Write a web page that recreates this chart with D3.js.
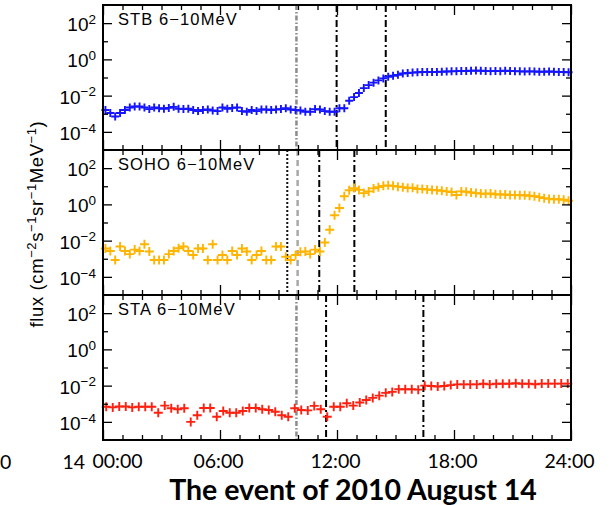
<!DOCTYPE html>
<html>
<head>
<meta charset="utf-8">
<script src="https://cdn.jsdelivr.net/npm/d3@7"></script>
<style>
  html, body { margin: 0; padding: 0; background: #fff; }
  svg { display: block; }
</style>
</head>
<body>
<svg id="chart" width="611" height="505"></svg>
<script>
// Proton flux, 6-10 MeV channel, three spacecraft (hours of the day, UT)
const stbTimes = d3.range(96).map(i => 0.125 + 0.25 * i);
const stbFlux = [
  1.6e-3, 1.1e-3, 7.1e-4, 1.1e-3, 1.6e-3, 2.2e-3, 2.5e-3, 2.5e-3, 2.2e-3, 1.8e-3,
  2.2e-3, 2.0e-3, 1.9e-3, 2.1e-3, 2.4e-3, 1.9e-3, 1.8e-3, 1.9e-3, 1.6e-3, 1.4e-3,
  1.6e-3, 1.7e-3, 1.5e-3, 1.4e-3, 2.2e-3, 1.9e-3, 2.1e-3, 2.2e-3, 1.4e-3, 1.3e-3,
  1.6e-3, 1.4e-3, 1.7e-3, 1.7e-3, 1.6e-3, 1.7e-3, 1.8e-3, 2.0e-3, 1.7e-3, 1.6e-3,
  1.5e-3, 1.3e-3, 1.3e-3, 1.8e-3, 1.7e-3, 1.4e-3, 1.3e-3, 1.3e-3, 2.0e-3, 2.0e-3,
  5.2e-3, 8.3e-3, 0.014, 0.026, 0.038, 0.052, 0.069, 0.089, 0.11, 0.126,
  0.14, 0.166, 0.178, 0.186, 0.195, 0.2, 0.2, 0.2, 0.204, 0.209,
  0.214, 0.219, 0.224, 0.229, 0.229, 0.234, 0.24, 0.234, 0.229, 0.224,
  0.229, 0.224, 0.234, 0.229, 0.224, 0.219, 0.214, 0.219, 0.214, 0.209,
  0.209, 0.214, 0.209, 0.204, 0.2, 0.195
];

const sohoTimes = d3.range(96).map(i => 0.125 + 0.25 * i);
const sohoFlux = [
  3.7e-3, 2.7e-3, 8.5e-4, 4.7e-3, 2.7e-3, 1.8e-3, 3.2e-3, 2.7e-3, 6.3e-3, 2.5e-3,
  8.5e-4, 8.5e-4, 8.5e-4, 1.8e-3, 2.7e-3, 3.8e-3, 4.7e-3, 2.7e-3, 1.6e-3, 3.7e-3,
  3.7e-3, 8.5e-4, 6.3e-3, 8.5e-4, 1.6e-3, 8.5e-4, 2.7e-3, 1.6e-3, 3.7e-3, 2.5e-3,
  8.5e-4, 1.6e-3, 2.7e-3, 8.5e-4, 8.5e-4, 4.7e-3, 4.7e-3, 1.3e-3, 8.5e-4, 1.6e-3,
  2.4e-3, 2.5e-3, 1.8e-3, 3.2e-3, 2.5e-3, 7.9e-3, 0.04, 0.25, 0.63, 2.8,
  6.0, 7.9, 6.3, 4.2, 5.2, 7.6, 8.9, 10.5, 11.2, 10.5,
  9.5, 8.9, 7.9, 8.3, 7.1, 7.1, 6.6, 6.3, 6.0, 5.6,
  5.2, 4.8, 3.3, 5.2, 5.0, 4.5, 4.2, 4.0, 3.8, 4.0,
  3.6, 3.5, 3.5, 3.3, 3.3, 3.2, 3.2, 3.0, 2.8, 2.5,
  2.2, 2.0, 1.9, 1.9, 1.8, 1.6
];

const staTimes = d3.range(72).map(i => 1 / 6 + i / 3);
const staFlux = [
  6.8e-4, 6.3e-4, 7.1e-4, 7.1e-4, 6.3e-4, 6.8e-4, 6.8e-4, 6.8e-4, 3.2e-4, 7.9e-4,
  5.6e-4, 5.0e-4, 5.6e-4, 1.0e-4, 2.3e-4, 5.8e-4, 5.8e-4, 1.9e-4, 4.0e-4, 3.2e-4,
  3.2e-4, 4.0e-4, 5.8e-4, 5.8e-4, 5.0e-4, 4.5e-4, 3.6e-4, 2.3e-4, 1.9e-4, 5.6e-4,
  4.5e-4, 4.3e-4, 7.6e-4, 5.0e-4, 1.9e-4, 6.8e-4, 6.8e-4, 1.07e-3, 7.9e-4, 1.17e-3,
  1.6e-3, 2.1e-3, 2.8e-3, 4.0e-3, 4.5e-3, 6.3e-3, 6.3e-3, 6.3e-3, 6.0e-3, 0.010,
  9.5e-3, 8.9e-3, 9.5e-3, 0.0107, 0.0117, 0.0117, 0.0117, 0.0117, 0.0126, 0.0117,
  0.0126, 0.0126, 0.0126, 0.0135, 0.0126, 0.0126, 0.012, 0.0129, 0.0129, 0.0129,
  0.0129, 0.0129
];

// Event markers (hours): onset / arrival lines drawn in each panel
const stbMarks = [
  { t: 9.92, kind: "grayDot" }, { t: 11.98, kind: "dashDot" }, { t: 14.5, kind: "dashDot" }
];
const sohoMarks = [
  { t: 9.45, kind: "dotted" }, { t: 9.98, kind: "grayDash" },
  { t: 11.09, kind: "dashDot" }, { t: 12.89, kind: "dashDot" }
];
const staMarks = [
  { t: 9.92, kind: "grayDot" }, { t: 11.44, kind: "dashDot" }, { t: 16.43, kind: "dashDot" }
];

const panelNames = ["STB 6\u221210MeV", "SOHO 6\u221210MeV", "STA 6\u221210MeV"];
const panelColors = ["#1414ff", "#ffb400", "#ff2010"];
const markerSizes = [4, 4.5, 4.5];
const yMajor = [1e-4, 1e-2, 1, 1e2];
const yMinor = [1e-3, 1e-1, 1e1];
const xMajor = [0, 6, 12, 18, 24];
const xLabels = ["00:00", "06:00", "12:00", "18:00", "24:00"];
const dayLabel = "14";
const titleText = "The event of 2010 August 14";

const svg = d3.select("#chart");
const left = 103, right = 571;
const panelTops = [5, 150, 295];
const panelH = 145;

const x = d3.scaleLinear().domain([0, 24]).range([left, right]);
const xMinor = d3.range(0, 25).filter(h => h % 6 !== 0);

const lineStyles = {
  dashDot: { stroke: "#000", width: 2, dash: "7,3,2,3" },
  dotted: { stroke: "#111", width: 2, dash: "2,2" },
  grayDash: { stroke: "#a8a8a8", width: 2.5, dash: "6,4" },
  grayDot: { stroke: "#8c8c8c", width: 2.5, dash: "5,2,1.5,2" }
};

const series = [
  { t: stbTimes, v: stbFlux, marks: stbMarks },
  { t: sohoTimes, v: sohoFlux, marks: sohoMarks },
  { t: staTimes, v: staFlux, marks: staMarks }
];

const tickFont = "'Liberation Sans', Arial, sans-serif";

series.forEach((s, p) => {
  const top = panelTops[p];
  const y = d3.scaleLog().domain([1e-5, 1e3]).range([top + panelH, top]);
  const g = svg.append("g");

  // event lines
  s.marks.forEach(m => {
    const st = lineStyles[m.kind];
    g.append("line")
      .attr("x1", x(m.t)).attr("x2", x(m.t))
      .attr("y1", top).attr("y2", top + panelH)
      .attr("stroke", st.stroke).attr("stroke-width", st.width)
      .attr("stroke-dasharray", st.dash);
  });

  // crosses
  const r = markerSizes[p];
  const pts = s.t.map((t, i) => [t, s.v[i]]);
  g.append("g").selectAll("path").data(pts).join("path")
    .attr("transform", d => `translate(${x(d[0])},${y(d[1])})`)
    .attr("d", `M${-r},0H${r}M0,${-r}V${r}`)
    .attr("stroke", panelColors[p])
    .attr("stroke-width", 1.9)
    .attr("fill", "none");

  // y axis, left with labels
  const yl = g.append("g").attr("transform", `translate(${left},0)`)
    .call(d3.axisLeft(y).tickValues(yMajor).tickSize(-9).tickPadding(7).tickFormat(() => ""));
  yl.selectAll("text").each(function(d) {
    const e = Math.round(Math.log10(d));
    const t = d3.select(this)
      .attr("font-family", tickFont).attr("font-size", 19).attr("fill", "#000")
      .attr("dy", "0.4em");
    t.append("tspan").text("10");
    t.append("tspan").attr("font-size", 13.5).attr("dy", "-0.55em")
      .text(e < 0 ? "\u2212" + (-e) : String(e));
  });
  g.append("g").attr("transform", `translate(${left},0)`)
    .call(d3.axisLeft(y).tickValues(yMinor).tickSize(-5).tickFormat(""));
  g.append("g").attr("transform", `translate(${right},0)`)
    .call(d3.axisRight(y).tickValues(yMajor).tickSize(-9).tickFormat(""));
  g.append("g").attr("transform", `translate(${right},0)`)
    .call(d3.axisRight(y).tickValues(yMinor).tickSize(-5).tickFormat(""));

  // x ticks on top and bottom edges
  g.append("g").attr("transform", `translate(0,${top})`)
    .call(d3.axisTop(x).tickValues(xMajor).tickSize(-10).tickFormat(""));
  g.append("g").attr("transform", `translate(0,${top})`)
    .call(d3.axisTop(x).tickValues(xMinor).tickSize(-5).tickFormat(""));
  g.append("g").attr("transform", `translate(0,${top + panelH})`)
    .call(d3.axisBottom(x).tickValues(xMajor).tickSize(-10).tickFormat(""));
  g.append("g").attr("transform", `translate(0,${top + panelH})`)
    .call(d3.axisBottom(x).tickValues(xMinor).tickSize(-5).tickFormat(""));

  g.selectAll(".domain").remove();
  g.selectAll(".tick line").attr("stroke", "#000").attr("stroke-width", 1.3);

  // frame
  g.append("rect").attr("x", left).attr("y", top).attr("width", right - left).attr("height", panelH)
    .attr("fill", "none").attr("stroke", "#000").attr("stroke-width", 2);

  // panel name
  g.append("text").attr("x", left + 15).attr("y", top + 19.5)
    .attr("font-family", tickFont).attr("font-size", 16.5).attr("letter-spacing", 1.1)
    .text(panelNames[p]);
});

// y axis title
const yt = svg.append("text")
  .attr("transform", "translate(43,224) rotate(-90)")
  .attr("text-anchor", "middle")
  .attr("font-family", tickFont).attr("font-size", 18.5).attr("letter-spacing", 0.6);
yt.append("tspan").text("flux (cm");
[["\u22122", "s"], ["\u22121", "sr"], ["\u22121", "MeV"], ["\u22121", ")"]].forEach(([sup, after]) => {
  yt.append("tspan").attr("font-size", 13).attr("dy", -7).text(sup);
  yt.append("tspan").attr("dy", 7).text(after);
});

// time labels under the bottom panel
const labelFont = "Lato, 'Open Sans', sans-serif";
const xl = svg.append("g").attr("transform", `translate(0,${panelTops[2] + panelH})`)
  .call(d3.axisBottom(x).tickValues(xMajor).tickSize(0).tickPadding(14)
    .tickFormat((d, i) => xLabels[i]));
xl.select(".domain").remove();
xl.selectAll("text").attr("font-family", labelFont).attr("font-size", 19.5).attr("fill", "#000")
  .attr("dx", (d, i) => (i === 0 ? 14 : -2));
// the day number sits left of the first time label
svg.append("text").attr("x", x(0) - 18).attr("y", 469).attr("text-anchor", "end")
  .attr("font-family", labelFont).attr("font-size", 19.5).text(dayLabel);
svg.append("text").attr("x", 0).attr("y", 469).attr("text-anchor", "start")
  .attr("font-family", labelFont).attr("font-size", 19.5).text("0");

// title
svg.append("text").attr("x", 353).attr("y", 500).attr("text-anchor", "middle")
  .attr("font-family", "Lato, 'Open Sans', sans-serif").attr("font-weight", "bold")
  .attr("font-size", 28.5).text(titleText);
</script>
</body>
</html>
